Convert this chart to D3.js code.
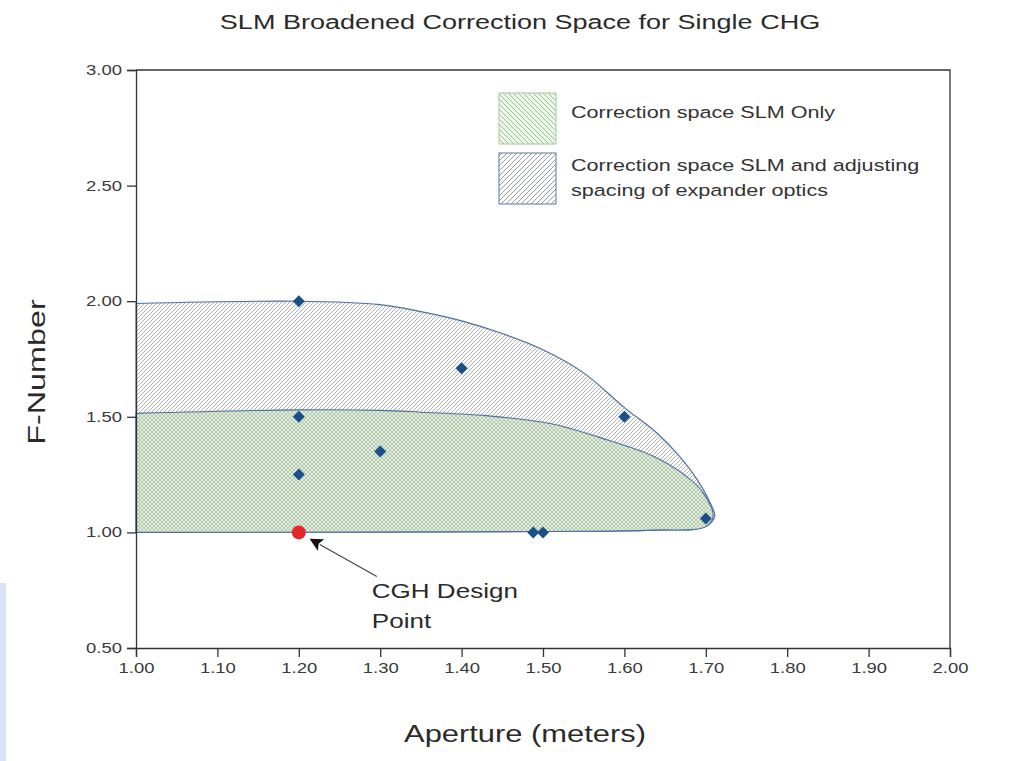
<!DOCTYPE html>
<html>
<head>
<meta charset="utf-8">
<script src="https://cdn.jsdelivr.net/npm/d3@7"></script>
<style>
  body { margin: 0; background: #fff; }
  svg text { font-family: "Liberation Sans", Arial, sans-serif; }
</style>
</head>
<body>
<svg width="1010" height="761"></svg>
<script>
// Chart data
const xTicks = [1.0, 1.1, 1.2, 1.3, 1.4, 1.5, 1.6, 1.7, 1.8, 1.9, 2.0];
const yTicks = [0.5, 1.0, 1.5, 2.0, 2.5, 3.0];

// measured design points (aperture, f-number)
const pointX = [1.2, 1.2, 1.2, 1.3, 1.4, 1.6, 1.488, 1.5, 1.7];
const pointY = [2.0, 1.5, 1.25, 1.35, 1.71, 1.5, 1.0, 1.0, 1.06];
const designPoint = [1.2, 1.0];

// outline of the SLM + expander region (top edge, round the tip, back along the bottom)
const outerX = [1.0, 1.2, 1.3, 1.35, 1.40, 1.45, 1.50, 1.55, 1.60, 1.64, 1.67, 1.69, 1.705, 1.711, 1.70, 1.635, 1.5, 1.0];
const outerY = [1.99, 2.0, 1.985, 1.955, 1.915, 1.86, 1.79, 1.69, 1.54, 1.43, 1.32, 1.225, 1.13, 1.07, 1.025, 1.01, 1.004, 1.0];
// outline of the SLM-only region
const innerX = [1.0, 1.2, 1.3, 1.35, 1.43, 1.51, 1.57, 1.635, 1.677, 1.697, 1.709, 1.70, 1.635, 1.5, 1.0];
const innerY = [1.515, 1.53, 1.528, 1.52, 1.505, 1.47, 1.41, 1.33, 1.24, 1.17, 1.07, 1.025, 1.01, 1.004, 1.0];

const legendLabels = [
  ["Correction space SLM Only"],
  ["Correction space SLM and adjusting", "spacing of expander optics"]
];

const svg = d3.select('svg');
const plotLeft = 136, plotRight = 950, plotTop = 70, plotBottom = 648;

const x = d3.scaleLinear().domain([1, 2]).range([plotLeft, plotRight]);
const y = d3.scaleLinear().domain([0.5, 3]).range([plotBottom, plotTop]);

// the source text is rendered wide, so stretch glyphs horizontally
function wideText(parent, tx, ty, sx, size, anchor, rot) {
  return parent.append('text')
    .attr('transform', `translate(${tx},${ty})${rot ? ` rotate(${rot})` : ''} scale(${sx},1)`)
    .attr('text-anchor', anchor || 'start')
    .attr('fill', '#2a2a2a')
    .style('font-size', size + 'px');
}

// decorative strip at the far left (screenshot edge)
svg.append('rect').attr('x', 0).attr('y', 583).attr('width', 6).attr('height', 178).attr('fill', '#d7e3f6');

// patterns
const defs = svg.append('defs');
const hatch = defs.append('pattern').attr('id', 'hatch')
  .attr('patternUnits', 'userSpaceOnUse').attr('width', 4).attr('height', 4);
hatch.append('rect').attr('width', 4).attr('height', 4).attr('fill', '#fcfcfc');
hatch.append('path').attr('d', 'M-1,1 l2,-2 M0,4 l4,-4 M3,5 l2,-2')
  .attr('stroke', '#9a9a9a').attr('stroke-width', 0.75);

const cross = defs.append('pattern').attr('id', 'cross')
  .attr('patternUnits', 'userSpaceOnUse').attr('width', 4).attr('height', 4);
cross.append('rect').attr('width', 4).attr('height', 4).attr('fill', '#dfeed9');
cross.append('path').attr('d', 'M0,4 l4,-4 M0,0 l4,4')
  .attr('stroke', '#a3b0a0').attr('stroke-width', 0.6);

const legHatch = defs.append('pattern').attr('id', 'leghatch')
  .attr('patternUnits', 'userSpaceOnUse').attr('width', 5).attr('height', 5);
legHatch.append('rect').attr('width', 5).attr('height', 5).attr('fill', '#fff');
legHatch.append('path').attr('d', 'M-1,1 l2,-2 M0,5 l5,-5 M4,6 l2,-2')
  .attr('stroke', '#8a909a').attr('stroke-width', 0.9);

const legGreen = defs.append('pattern').attr('id', 'leggreen')
  .attr('patternUnits', 'userSpaceOnUse').attr('width', 5).attr('height', 5);
legGreen.append('rect').attr('width', 5).attr('height', 5).attr('fill', '#eef6ea');
legGreen.append('path').attr('d', 'M-1,4 l2,2 M0,0 l5,5 M4,-1 l2,2')
  .attr('stroke', '#8cbf8a').attr('stroke-width', 0.9);

// regions: smooth outline, straight left edge on the axis
const outline = d3.line().x(d => x(d[0])).y(d => y(d[1])).curve(d3.curveCatmullRom.alpha(0.5));
const outerPts = outerX.map((v, i) => [v, outerY[i]]);
const innerPts = innerX.map((v, i) => [v, innerY[i]]);

svg.append('path').attr('d', outline(outerPts) + 'Z')
  .attr('fill', 'url(#hatch)').attr('stroke', '#4d6f9c').attr('stroke-width', 1.1);
svg.append('path').attr('d', outline(innerPts) + 'Z')
  .attr('fill', 'url(#cross)').attr('stroke', '#4d6f9c').attr('stroke-width', 1.1);

// axes
const tickSx = 1.32;
const xAxis = svg.append('g').attr('transform', `translate(0,${plotBottom})`)
  .call(d3.axisBottom(x).tickValues(xTicks).tickFormat(d3.format('.2f')).tickSize(9).tickSizeOuter(9).tickPadding(6));
const yAxis = svg.append('g').attr('transform', `translate(${plotLeft},0)`)
  .call(d3.axisLeft(y).tickValues(yTicks).tickFormat(d3.format('.2f')).tickSize(9).tickSizeOuter(9));
[xAxis, yAxis].forEach(a => {
  a.selectAll('path, line').attr('stroke', '#333').attr('stroke-width', 1.3);
  a.selectAll('text').attr('fill', '#3a3a3a').style('font-size', '14px')
    .attr('transform', `scale(${tickSx},1)`);
});
yAxis.selectAll('text').attr('x', -14 / tickSx);

// upper and right frame lines
svg.append('path').attr('d', `M${plotLeft},${plotTop} H${plotRight} V${plotBottom}`)
  .attr('fill', 'none').attr('stroke', '#333').attr('stroke-width', 1.3);

// design points
svg.append('g').selectAll('path').data(pointX.map((v, i) => [v, pointY[i]])).join('path')
  .attr('transform', d => `translate(${x(d[0])},${y(d[1])}) rotate(45)`)
  .attr('d', d3.symbol(d3.symbolSquare, 72)())
  .attr('fill', '#1b4f8c');

svg.append('circle').attr('cx', x(designPoint[0])).attr('cy', y(designPoint[1])).attr('r', 7)
  .attr('fill', '#e3262a');

// annotation arrow
defs.append('marker').attr('id', 'arrow').attr('viewBox', '0 0 10 10')
  .attr('refX', 1).attr('refY', 5).attr('markerWidth', 15).attr('markerHeight', 13)
  .attr('orient', 'auto').attr('markerUnits', 'userSpaceOnUse')
  .append('path').attr('d', 'M0,0 L10,5 L0,10 L2,5 z').attr('fill', '#111');
svg.append('line')
  .attr('x1', x(designPoint[0]) + 78).attr('y1', y(designPoint[1]) + 44)
  .attr('x2', x(designPoint[0]) + 21).attr('y2', y(designPoint[1]) + 12)
  .attr('stroke', '#444').attr('stroke-width', 1.2)
  .attr('marker-end', 'url(#arrow)');
wideText(svg, x(designPoint[0]) + 73, y(designPoint[1]) + 66, 1.24, 21).text('CGH Design');
wideText(svg, x(designPoint[0]) + 73, y(designPoint[1]) + 96, 1.24, 21).text('Point');

// legend
const legend = svg.append('g');
const fills = ['url(#leggreen)', 'url(#leghatch)'];
const strokes = ['#a8c8a4', '#5a74a0'];
const textOffsets = [25, 18];
legendLabels.forEach((lines, i) => {
  const ly = 93 + i * 60;
  legend.append('rect').attr('x', 499).attr('y', ly).attr('width', 57).attr('height', 51)
    .attr('fill', fills[i]).attr('stroke', strokes[i]).attr('stroke-width', 1);
  lines.forEach((s, j) => {
    wideText(legend, 571, ly + textOffsets[i] + j * 25, 1.31, 16.5).attr('fill', '#333').text(s);
  });
});

// titles
wideText(svg, 520, 29, 1.385, 19.5, 'middle').text('SLM Broadened Correction Space for Single CHG');
wideText(svg, 525, 742, 1.26, 24.5, 'middle').text('Aperture (meters)');
wideText(svg, 45, 372, 1.32, 24.5, 'middle', -90).text('F-Number');
</script>
</body>
</html>
